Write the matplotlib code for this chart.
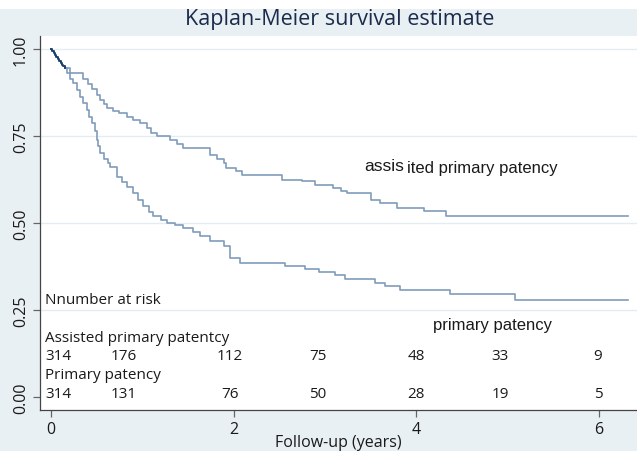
import matplotlib
matplotlib.use("Agg")
import matplotlib.pyplot as plt
from matplotlib.patches import Rectangle

# ---- data ----
shared_t = [0, 0.015, 0.03, 0.045, 0.06, 0.075, 0.09, 0.105, 0.12, 0.135, 0.15]
shared_s = [1.0, 0.995, 0.989, 0.983, 0.977, 0.972, 0.966, 0.961, 0.955, 0.950, 0.945]

assisted_t = [0.21, 0.35, 0.41, 0.45, 0.50,
              0.54, 0.58, 0.61, 0.68, 0.75, 0.83, 0.90, 0.97, 1.05, 1.10, 1.16, 1.30,
              1.38, 1.45, 1.74, 1.82, 1.89, 1.92, 2.03, 2.09, 2.53, 2.75, 2.89, 3.09,
              3.18, 3.24, 3.51, 3.60, 3.79, 4.08, 4.33, 6.32]
assisted_s = [0.930, 0.915, 0.900,
              0.885, 0.868, 0.854, 0.842, 0.830, 0.822, 0.815, 0.806, 0.796, 0.787,
              0.772, 0.760, 0.749, 0.739, 0.727, 0.715, 0.696, 0.684, 0.672, 0.658,
              0.648, 0.639, 0.625, 0.620, 0.610, 0.601, 0.591, 0.585, 0.567, 0.558,
              0.544, 0.534, 0.520, 0.520]

primary_t = [0.18, 0.21, 0.24, 0.28, 0.32,
             0.35, 0.39, 0.42, 0.45, 0.48, 0.50, 0.52, 0.54, 0.58, 0.62, 0.65, 0.72,
             0.78, 0.83, 0.90, 0.95, 1.01, 1.07, 1.12, 1.20, 1.27, 1.36, 1.45, 1.55,
             1.63, 1.74, 1.89, 1.96, 2.07, 2.56, 2.78, 2.93, 3.11, 3.22, 3.55, 3.66,
             3.82, 4.37, 5.08, 6.32]
primary_s = [0.930, 0.915, 0.902,
             0.882, 0.863, 0.845, 0.825, 0.806, 0.787, 0.763, 0.739, 0.720, 0.700,
             0.685, 0.672, 0.661, 0.633, 0.618, 0.604, 0.585, 0.566, 0.548, 0.533,
             0.520, 0.510, 0.500, 0.493, 0.486, 0.474, 0.462, 0.448, 0.433, 0.400,
             0.386, 0.376, 0.367, 0.359, 0.352, 0.338, 0.329, 0.319, 0.307, 0.295,
             0.278, 0.278]

risk_x = [0.08, 0.80, 1.96, 2.92, 4.0, 4.92, 5.99]
risk_assisted = [314, 176, 112, 75, 48, 33, 9]
risk_primary = [314, 131, 76, 50, 28, 19, 5]

x_ticks = [0, 2, 4, 6]
y_ticks = [0.0, 0.25, 0.50, 0.75, 1.00]
y_ticklabels = ["0.00", "0.25", "0.50", "0.75", "1.00"]

# ---- styling ----
BG = "#e9f0f3"
LINE = "#7f9cba"
NAVY = "#1d3f6c"
stata = ["Open Sans", "DejaVu Sans"]
arial = ["Liberation Sans", "DejaVu Sans"]
TXT = "#1a1a1a"

W, H = 637, 452
fig = plt.figure(figsize=(W / 100, H / 100), dpi=100, facecolor=BG)
fig.patches.append(Rectangle((0, 1 - 10 / H), 1, 10 / H, transform=fig.transFigure,
                             facecolor="white", edgecolor="none", zorder=0))

left, right, top, bottom = 40, 637, 37, 411
ax = fig.add_axes([left / W, 1 - bottom / H, (right - left) / W, (bottom - top) / H])
ax.set_facecolor("white")

# data->pixel: x=0 at px 51, 91.3 px/yr ; y=1 at px 50, y=0 at px 398
ax.set_xlim((left - 51) / 91.3, (right - 51) / 91.3)
ax.set_ylim(-(bottom - 398) / 348, 1 + (50 - top) / 348)

for yv in [0.25, 0.50, 0.75, 1.00]:
    ax.axhline(yv, color="#e3ecf0", lw=1.0, zorder=0)

ax.plot([shared_t[-1]] + assisted_t, [shared_s[-1]] + assisted_s,
        drawstyle="steps-post", color=LINE, lw=1.2)
ax.plot([shared_t[-1]] + primary_t, [shared_s[-1]] + primary_s,
        drawstyle="steps-post", color=LINE, lw=1.2)
ax.plot(shared_t, shared_s, drawstyle="steps-post", color=NAVY, lw=1.4)

for s in ["top", "right"]:
    ax.spines[s].set_visible(False)
for s in ["left", "bottom"]:
    ax.spines[s].set_color("#444444")
    ax.spines[s].set_linewidth(0.9)

ax.set_xticks(x_ticks)
ax.set_xticklabels([str(v) for v in x_ticks], family=stata, fontsize=11.5, color=TXT)
ax.set_yticks(y_ticks)
ax.set_yticklabels(y_ticklabels, family=stata, fontsize=11.5, color=TXT,
                   rotation=90, va="center")
ax.tick_params(axis="both", direction="out", length=5, width=0.9, color="#666666", pad=3)

ax.set_xlabel("Follow-up (years)", family=stata, fontsize=11.5, color=TXT, labelpad=-2)

fig.text(340 / W, 1 - 19 / H, "Kaplan-Meier survival estimate", ha="center", va="center",
         family=stata, fontsize=15.5, color="#1a2b4c")

# annotations
ax.text(3.43, 0.665, "assis", family=arial, fontsize=12.5, color=TXT, va="center")
ax.text(3.90, 0.660, "ited primary patency", family=arial, fontsize=12, color=TXT,
        va="center")
ax.text(4.18, 0.207, "primary patency", family=arial, fontsize=12, color=TXT,
        va="center")

FS = 11
ax.text(-0.07, 0.279, "Nnumber at risk", family=stata, fontsize=FS, color=TXT,
        va="center")
ax.text(-0.07, 0.172, "Assisted primary patentcy", family=stata, fontsize=FS,
        color=TXT, va="center")
ax.text(-0.07, 0.066, "Primary patency", family=stata, fontsize=FS, color=TXT,
        va="center")
for xv, n in zip(risk_x, risk_assisted):
    ax.text(xv, 0.118, str(n), family=stata, fontsize=FS, color=TXT,
            ha="center", va="center")
for xv, n in zip(risk_x, risk_primary):
    ax.text(xv, 0.011, str(n), family=stata, fontsize=FS, color=TXT,
            ha="center", va="center")

fig.savefig("out.png", dpi=100, facecolor=BG)
